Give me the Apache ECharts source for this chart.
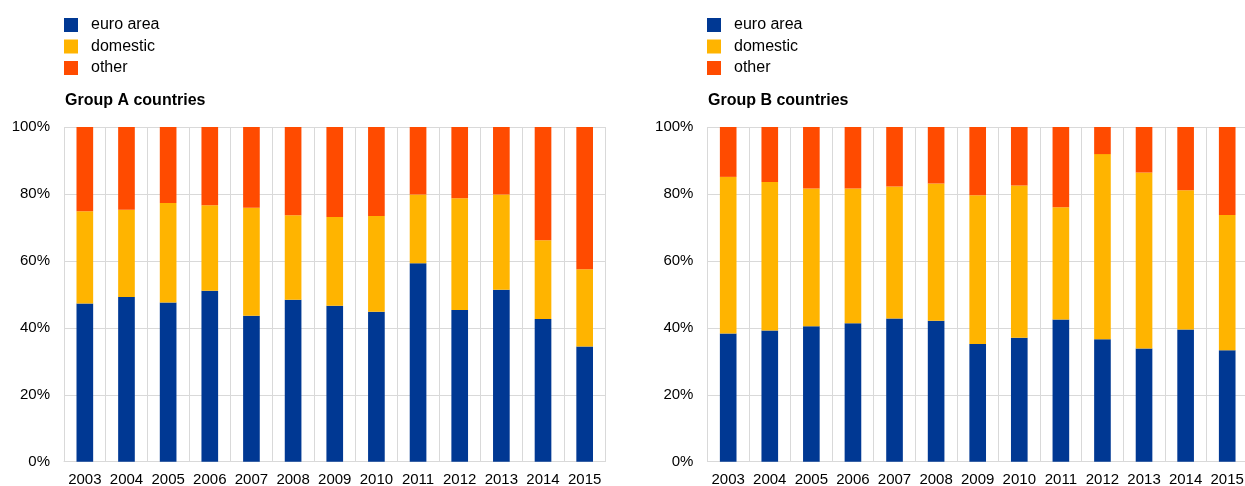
<!DOCTYPE html>
<html>
<head>
<meta charset="utf-8">
<script src="https://cdn.jsdelivr.net/npm/echarts@6/dist/echarts.min.js"></script>
<style>
html,body{margin:0;padding:0;background:#fff;}
#c{width:1245px;height:486px;}
</style>
</head>
<body>
<div id="c"></div>
<script>
const years = ['2003','2004','2005','2006','2007','2008','2009','2010','2011','2012','2013','2014','2015'];
const seriesNames = ['euro area','domestic','other'];
const panelTitles = ['Group A countries','Group B countries'];
const yTicks = [0,20,40,60,80,100];

// Group A (shares, %)
const groupAEuroArea = [47.3,49.2,47.6,51.1,43.6,48.4,46.6,44.8,59.3,45.3,51.4,42.6,34.4];
const groupADomestic = [27.5,26.1,29.7,25.5,32.3,25.2,26.5,28.6,20.5,33.4,28.4,23.6,23.1];
const groupAOther    = [25.2,24.7,22.7,23.4,24.1,26.4,26.9,26.6,20.2,21.3,20.2,33.8,42.5];

// Group B (shares, %)
const groupBEuroArea = [38.3,39.2,40.5,41.4,42.8,42.1,35.2,37.0,42.5,36.6,33.8,39.5,33.3];
const groupBDomestic = [46.8,44.4,41.1,40.2,39.4,41.0,44.4,45.5,33.5,55.3,52.6,41.6,40.4];
const groupBOther    = [14.9,16.4,18.4,18.4,17.8,16.9,20.4,17.5,24.0,8.1,13.6,18.9,26.3];

const colors = ['#003893','#FFB400','#FF4B00'];
const font = 'Liberation Sans, Arial, sans-serif';
const gridColor = '#d9d9d9';

const chart = echarts.init(document.getElementById('c'), null, {renderer:'canvas'});

function xAxis(i){
  return {
    type:'category', gridIndex:i, data:years, boundaryGap:true,
    axisLine:{show:true, lineStyle:{color:gridColor, width:1}},
    axisTick:{show:false},
    splitLine:{show:true, interval:0, lineStyle:{color:gridColor, width:1}},
    axisLabel:{color:'#000', fontSize:15, fontFamily:font, margin:11, interval:0}
  };
}
function yAxis(i){
  return {
    type:'value', gridIndex:i, min:yTicks[0], max:yTicks[yTicks.length-1], interval:yTicks[1]-yTicks[0],
    axisLine:{show:false}, axisTick:{show:false},
    splitLine:{show:true, lineStyle:{color:gridColor, width:1}},
    axisLabel:{color:'#000', fontSize:15, fontFamily:font, margin:14, padding:[7,0,0,0], formatter: v => v + '%'}
  };
}
function bar(name, data, i, color){
  return {
    name:name, type:'bar', stack:'s'+i, xAxisIndex:i, yAxisIndex:i,
    data:data, barWidth:'40%', itemStyle:{color:color}, emphasis:{disabled:true}
  };
}
function legend(left){
  return {
    left:left, top:16, padding:0, orient:'vertical', data:seriesNames,
    itemWidth:14, itemHeight:14, itemGap:3.5, icon:'rect',
    textStyle:{color:'#000', fontSize:16, fontFamily:font, padding:[0,0,0,8], lineHeight:18},
    selectedMode:false
  };
}

chart.setOption({
  animation:false,
  color:colors,
  title:[
    {text:panelTitles[0], left:60, top:88, textStyle:{fontSize:16, fontWeight:'bold', color:'#000', fontFamily:font}},
    {text:panelTitles[1], left:703, top:88, textStyle:{fontSize:16, fontWeight:'bold', color:'#000', fontFamily:font}}
  ],
  legend:[legend(64), legend(707)],
  grid:[
    {left:64, top:127, right:639.5, bottom:24.3, containLabel:false, outerBoundsMode:'none'},
    {left:707.4, top:127, right:-3, bottom:24.3, containLabel:false, outerBoundsMode:'none'}
  ],
  xAxis:[xAxis(0), xAxis(1)],
  yAxis:[yAxis(0), yAxis(1)],
  series:[
    bar(seriesNames[0], groupAEuroArea, 0, colors[0]),
    bar(seriesNames[1], groupADomestic, 0, colors[1]),
    bar(seriesNames[2], groupAOther, 0, colors[2]),
    bar(seriesNames[0], groupBEuroArea, 1, colors[0]),
    bar(seriesNames[1], groupBDomestic, 1, colors[1]),
    bar(seriesNames[2], groupBOther, 1, colors[2])
  ]
});
</script>
</body>
</html>
